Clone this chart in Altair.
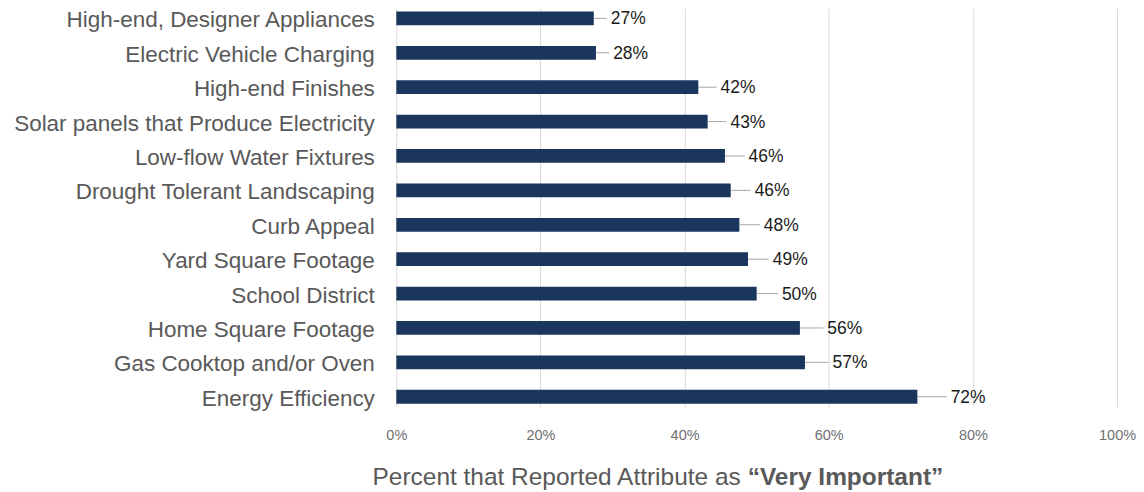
import altair as alt
import pandas as pd

categories = [
    "High-end, Designer Appliances",
    "Electric Vehicle Charging",
    "High-end Finishes\u00a0\u00a0",
    "Solar panels that Produce Electricity",
    "Low-flow Water Fixtures",
    "Drought Tolerant Landscaping",
    "Curb Appeal\u00a0",
    "Yard Square Footage",
    "School District",
    "Home Square Footage",
    "Gas Cooktop and/or Oven",
    "Energy Efficiency\u00a0",
]
values = [27.4, 27.7, 41.9, 43.2, 45.6, 46.4, 47.6, 48.8, 50.0, 56.0, 56.7, 72.3]
labels = ["27%", "28%", "42%", "43%", "46%", "46%", "48%", "49%", "50%", "56%", "57%", "72%"]
ticks = [0, 20, 40, 60, 80, 100]

df = pd.DataFrame({"cat": categories, "v": values, "lab": labels})

FONT = "Liberation Sans"
W, H = 722, 399

y = alt.Y("cat:N", sort=None, title=None,
          scale=alt.Scale(paddingInner=0.6, paddingOuter=0.09),
          axis=alt.Axis(ticks=False, domain=False, labelPadding=22, labelOffset=2,
                        labelFontSize=22.5, labelColor="#595959", labelFont=FONT,
                        labelLimit=400))
x = alt.X("v:Q", title=None,
          scale=alt.Scale(domain=[0, 100], nice=False),
          axis=alt.Axis(values=ticks, labelExpr="datum.value + '%'", ticks=False,
                        domain=False, grid=True, gridColor="#d9d9d9", labelPadding=22,
                        labelFlush=False, labelFontSize=14.5, labelColor="#707070",
                        labelFont=FONT))

# callout label position (Excel-style data callouts sit a little further out on longer bars)
base = alt.Chart(df).transform_calculate(lp="datum.v * 1.05 + 1.0")
bars = base.mark_bar(color="#1b365d").encode(x=x, y=y)
leaders = base.mark_rule(color="#a6a6a6", strokeWidth=1, x2Offset=-4).encode(
    x="v:Q", x2="lp:Q", y=alt.Y("cat:N", sort=None))
texts = base.mark_text(align="left", baseline="middle", dy=1, fontSize=17.5,
                       color="#1a1a1a", font=FONT).encode(
    x="lp:Q", y=alt.Y("cat:N", sort=None), text="lab:N")

title_df = pd.DataFrame({"t": ["Percent that Reported Attribute as"], "b": ["\u201cVery Important\u201d"]})
t1 = alt.Chart(title_df).mark_text(align="right", baseline="middle", fontSize=24.5,
                                   color="#595959", font=FONT).encode(
    x=alt.value(345), y=alt.value(470), text="t:N")
t2 = alt.Chart(title_df).mark_text(align="left", baseline="middle", fontSize=24.5,
                                   fontWeight="bold", color="#595959", font=FONT).encode(
    x=alt.value(352), y=alt.value(470), text="b:N")

chart = alt.layer(bars, leaders, texts, t1, t2).properties(
    width=W, height=H,
    autosize=alt.AutoSizeParams(type="none"),
    padding={"left": 389, "top": 0, "right": 19, "bottom": 86},
).configure_view(stroke=None)

chart.save("out.html", embed_options={"renderer": "svg", "actions": False})
